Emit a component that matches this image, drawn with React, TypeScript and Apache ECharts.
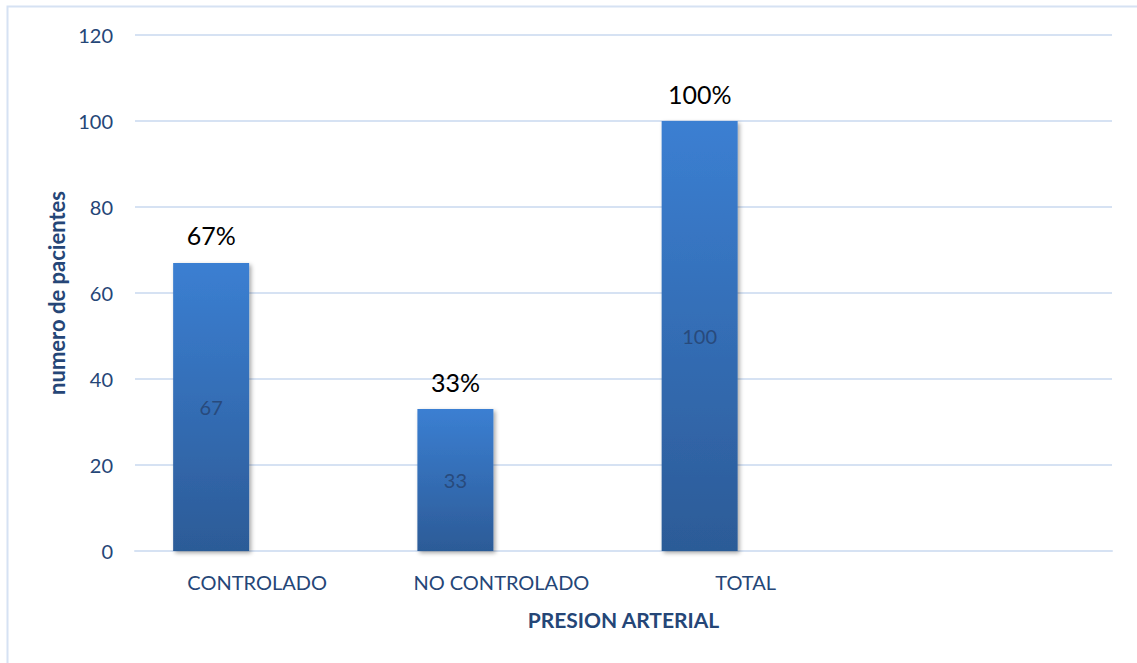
import React, { useEffect, useRef } from "react";
import * as echarts from "echarts";

const categories = ["CONTROLADO", "NO CONTROLADO", "TOTAL", ""];
const patientCounts = [67, 33, 100, null];
const percentLabels = ["67%", "33%", "100%", ""];
const yTicks = [0, 20, 40, 60, 80, 100, 120];

const FONT = "Lato, 'Open Sans', sans-serif";
const TEXT_BLUE = "#254677";

export default function App() {
  const ref = useRef<HTMLDivElement>(null);
  useEffect(() => {
    if (!ref.current) return;
    const chart = echarts.init(ref.current, null, { renderer: "svg" });
    chart.setOption({
      animation: false,
      backgroundColor: "#ffffff",
      textStyle: { fontFamily: FONT },
      graphic: [
        {
          type: "rect",
          shape: { x: 7.5, y: 6.5, width: 1150, height: 680 },
          style: { fill: "none", stroke: "#d6e2f3", lineWidth: 2 },
          silent: true,
        },
      ],
      grid: { left: 135, right: 25, top: 35, bottom: 112, containLabel: false },
      xAxis: {
        type: "category",
        data: categories,
        name: "PRESION ARTERIAL",
        nameLocation: "middle",
        nameGap: 58,
        nameTextStyle: { color: TEXT_BLUE, fontSize: 21, fontWeight: "bold", fontFamily: FONT },
        axisLine: { show: true, lineStyle: { color: "#d6e2f3", width: 2 } },
        axisTick: { show: false },
        axisLabel: { color: TEXT_BLUE, fontSize: 20, margin: 21, fontFamily: FONT },
      },
      yAxis: {
        type: "value",
        min: yTicks[0],
        max: yTicks[yTicks.length - 1],
        interval: 20,
        name: "numero de pacientes",
        nameLocation: "middle",
        nameGap: 68,
        nameTextStyle: { color: TEXT_BLUE, fontSize: 22, fontWeight: "bold", fontFamily: FONT },
        axisLine: { show: false },
        axisTick: { show: false },
        axisLabel: { color: TEXT_BLUE, fontSize: 20, margin: 22, fontFamily: FONT },
        splitLine: { lineStyle: { color: "#d6e2f3", width: 2 } },
      },
      series: [
        {
          type: "bar",
          name: "pacientes",
          stack: "a",
          data: patientCounts,
          barWidth: 76,
          barGap: "21%",
          itemStyle: {
            color: new echarts.graphic.LinearGradient(0, 0, 0, 1, [
              { offset: 0, color: "#3b7fd2" },
              { offset: 1, color: "#2c5b97" },
            ]),
            shadowColor: "rgba(0,0,0,0.35)",
            shadowBlur: 4,
            shadowOffsetX: 2,
            shadowOffsetY: 2,
          },
          label: {
            show: true,
            position: "inside",
            color: "#284a7c",
            fontSize: 20,
            fontFamily: FONT,
          },
        },
        {
          type: "bar",
          name: "porcentaje",
          stack: "a",
          data: patientCounts.map((v) => (v == null ? null : 0)),
          barWidth: 76,
          itemStyle: { color: "transparent" },
          label: {
            show: true,
            position: "top",
            distance: 15,
            color: "#000000",
            fontSize: 25,
            fontFamily: FONT,
            formatter: (p: any) => percentLabels[p.dataIndex],
          },
        },
        {
          type: "bar",
          name: "vacio",
          stack: "b",
          data: categories.map(() => null),
          barWidth: 76,
        },
      ],
    });
    return () => chart.dispose();
  }, []);
  return (
    <div
      ref={ref}
      style={{ position: "absolute", left: 0, top: 0, width: 1137, height: 663 }}
    />
  );
}
